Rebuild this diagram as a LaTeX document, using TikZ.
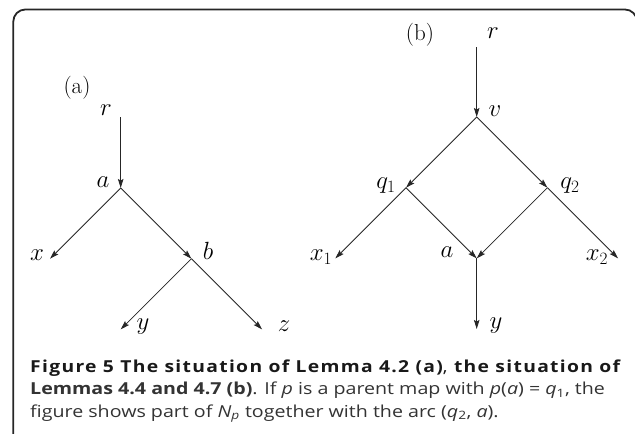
\documentclass[tikz,border=0pt]{standalone}
\usepackage{fontspec}
\usepackage{graphicx}
\newfontfamily\capfont[FakeStretch=1.19]{Open Sans}
\newfontfamily\capfontls[FakeStretch=1.17,LetterSpace=8]{Open Sans}
\usetikzlibrary{arrows.meta}
\tikzset{
  edge/.style={line width=0.85pt, draw=black!85, -{Stealth[length=9pt,width=5.5pt,inset=1.5pt]}},
  lbl/.style={inner sep=0pt, font=\fontsize{23}{27}\selectfont},
  capline/.style={inner sep=0pt, anchor=base west, font=\capfont\fontsize{16.5}{20}\selectfont},
  frame/.style={line width=1.8pt, draw=black!85, rounded corners=12pt}
}
\begin{document}
\begin{tikzpicture}[x=1pt,y=-1pt]
\useasboundingbox (0,0) rectangle (635,434);
\begin{scope}
\clip (0,0) rectangle (635,434);
\draw[frame] (13.3,9.5) rectangle (637,460);
\end{scope}
% (a)
\node[lbl] (la) at (77,88) {(a)};
\coordinate (ra) at (120.7,117);
\coordinate (aa) at (120.7,188);
\coordinate (xa) at (50,258.7);
\coordinate (ba) at (191.4,258.7);
\coordinate (ya) at (120.7,329.4);
\coordinate (za) at (262.1,329.4);
\node[lbl] (tra) at (106,110) {$r$};
\node[lbl] (taa) at (103,182) {$a$};
\node[lbl] (txa) at (37,255) {$x$};
\node[lbl] (tba) at (208,251) {$b$};
\node[lbl] (tya) at (143,327) {$y$};
\node[lbl] (tza) at (284,326) {$z$};
\draw[edge] (ra) -- (aa);
\draw[edge] (aa) -- (xa);
\draw[edge] (aa) -- (ba);
\draw[edge] (ba) -- (ya);
\draw[edge] (ba) -- (za);
% (b)
\node[lbl] (lb) at (420,35) {(b)};
\coordinate (rb) at (476.7,47);
\coordinate (vb) at (476.7,117);
\coordinate (q1) at (406,187.7);
\coordinate (q2) at (547.4,187.7);
\coordinate (ab) at (476.7,258.4);
\coordinate (x1) at (335.3,258.4);
\coordinate (x2) at (618.1,258.4);
\coordinate (yb) at (476.7,329);
\node[lbl] (trb) at (493,33) {$r$};
\node[lbl] (tvb) at (495,111) {$v$};
\node[lbl] (tq1) at (386,186) {$q_1$};
\node[lbl] (tq2) at (570,186) {$q_2$};
\node[lbl] (tab) at (447,252) {$a$};
\node[lbl] (tx1) at (321,257) {$x_1$};
\node[lbl] (tx2) at (597,257) {$x_2$};
\node[lbl] (tyb) at (496,326) {$y$};
\draw[edge] (rb) -- (vb);
\draw[edge] (vb) -- (q1);
\draw[edge] (vb) -- (q2);
\draw[edge] (q1) -- (x1);
\draw[edge] (q1) -- (ab);
\draw[edge] (q2) -- (ab);
\draw[edge] (q2) -- (x2);
\draw[edge] (ab) -- (yb);
% caption
\node[capline, text=black!90, font=\capfontls\fontsize{16.5}{20}\selectfont] (c1) at (30,372) {\resizebox{590pt}{\height}{\bfseries Figure 5 The situation of Lemma 4.2 (a)\mdseries, \bfseries the situation of}};
\node[capline, text=black!80] (c2) at (30,394.5) {{\bfseries Lemmas 4.4 and 4.7 (b)}. If \textit{p} is a parent map with \textit{p}(\textit{a}) = \textit{q}\textsubscript{1}, the};
\node[capline, text=black!80] (c3) at (30,417) {figure shows part of \textit{N}\textsubscript{\textit{p}} together with the arc (\textit{q}\textsubscript{2}, \textit{a}).};
\end{tikzpicture}
\end{document}
